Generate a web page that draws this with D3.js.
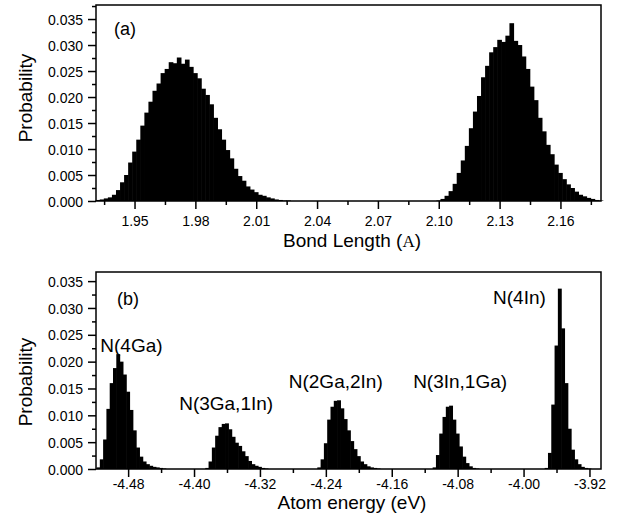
<!DOCTYPE html>
<html>
<head>
<meta charset="utf-8">
<script src="https://cdn.jsdelivr.net/npm/d3@7"></script>
<style>
  body { margin: 0; background: #fff; }
  svg text { font-family: "Liberation Sans", Arial, Helvetica, sans-serif; fill: #000; }
</style>
</head>
<body>
<div id="chart"></div>
<script>
// ---- data ----
// (a) bond length histograms, bin centres start + i*step
const bondStep   = 0.002;
const gaNStart   = 1.932;
const gaNProb    = [0.0002, 0.0003, 0.0005, 0.0007, 0.0012, 0.0021, 0.0036, 0.0050, 0.0074, 0.0095,
                    0.0118, 0.0145, 0.0170, 0.0191, 0.0212, 0.0226, 0.0246, 0.0254, 0.0267, 0.0265,
                    0.0276, 0.0264, 0.0272, 0.0258, 0.0246, 0.0236, 0.0216, 0.0204, 0.0186, 0.0160,
                    0.0138, 0.0118, 0.0098, 0.0082, 0.0062, 0.0048, 0.0039, 0.0028, 0.0022, 0.0017,
                    0.0012, 0.0010, 0.0007, 0.0005, 0.0003, 0.0002, 0.0001, 0.0001];
const inNStart   = 2.100;
const inNProb    = [0.0001, 0.0004, 0.0010, 0.0019, 0.0033, 0.0054, 0.0078, 0.0106, 0.0140, 0.0172,
                    0.0202, 0.0238, 0.0260, 0.0286, 0.0296, 0.0310, 0.0306, 0.0318, 0.0342, 0.0308,
                    0.0300, 0.0278, 0.0254, 0.0220, 0.0194, 0.0160, 0.0134, 0.0108, 0.0090, 0.0070,
                    0.0054, 0.0042, 0.0032, 0.0025, 0.0018, 0.0012, 0.0009, 0.0006, 0.0004, 0.0002,
                    0.0001];

// (b) atom energy histograms by N environment
const energyStep = 0.004;
const envLabels  = ["N(4Ga)", "N(3Ga,1In)", "N(2Ga,2In)", "N(3In,1Ga)", "N(4In)"];
const envStarts  = [-4.516, -4.384, -4.248, -4.108, -3.972];
const n4Ga       = [0.0003, 0.0018, 0.0055, 0.0112, 0.0160, 0.0188, 0.0214, 0.0200, 0.0176, 0.0144,
                    0.0110, 0.0072, 0.0040, 0.0023, 0.0014, 0.0009, 0.0006, 0.0004, 0.0003, 0.0002, 0.0001];
const n3Ga1In    = [0.0002, 0.0014, 0.0040, 0.0062, 0.0078, 0.0084, 0.0085, 0.0074, 0.0060, 0.0049,
                    0.0043, 0.0033, 0.0024, 0.0015, 0.0009, 0.0006, 0.0004, 0.0002, 0.0001];
const n2Ga2In    = [0.0003, 0.0018, 0.0048, 0.0092, 0.0116, 0.0127, 0.0128, 0.0113, 0.0093, 0.0072,
                    0.0052, 0.0037, 0.0024, 0.0014, 0.0009, 0.0005, 0.0003, 0.0002, 0.0001];
const n3In1Ga    = [0.0003, 0.0026, 0.0066, 0.0097, 0.0116, 0.0118, 0.0092, 0.0066, 0.0042, 0.0023,
                    0.0011, 0.0005, 0.0002, 0.0001];
const n4In       = [0.0002, 0.0030, 0.0120, 0.0230, 0.0336, 0.0262, 0.0160, 0.0075, 0.0036, 0.0018,
                    0.0009, 0.0004, 0.0002, 0.0001];
const envProbs   = [n4Ga, n3Ga1In, n2Ga2In, n3In1Ga, n4In];
// where each peak name sits (energy, probability of its baseline)
const envLabelAt = [[-4.476, 0.0218], [-4.361, 0.0110], [-4.228, 0.0151], [-4.077, 0.0151], [-4.005, 0.0307]];

// ticks
const probTicks   = [0, 0.005, 0.010, 0.015, 0.020, 0.025, 0.030, 0.035];
const bondTicks   = [1.95, 1.98, 2.01, 2.04, 2.07, 2.10, 2.13, 2.16];
const energyTicks = [-4.48, -4.40, -4.32, -4.24, -4.16, -4.08, -4.00, -3.92];

// ---- layout ----
const WIDTH  = 619;
const HEIGHT = 525;
const LEFT   = 96;
const RIGHT  = 601;

const svg = d3.select("#chart").append("svg")
    .attr("width", WIDTH)
    .attr("height", HEIGHT);

// start + values -> bins with left/right edges
function toBins(start, step, values) {
    return values.map((v, i) => ({ x0: start + (i - 0.5) * step, x1: start + (i + 0.5) * step, p: v }));
}

function minorsOf(major, step, domain) {
    const out = [];
    const lo = Math.min(...domain), hi = Math.max(...domain);
    major.forEach(t => {
        [t - step / 2, t + step / 2].forEach(m => {
            if (m > lo && m < hi && !out.some(o => Math.abs(o - m) < 1e-9)) out.push(m);
        });
    });
    return out;
}

function panel(cfg) {
    const x = d3.scaleLinear().domain(cfg.xDomain).range([LEFT, RIGHT]);
    const y = d3.scaleLinear().domain(cfg.yDomain).range([cfg.bottom, cfg.top]);
    const g = svg.append("g");

    // histogram bars, slightly widened so neighbours overlap without seams
    g.selectAll("rect.bin")
        .data(cfg.bins)
        .join("rect")
        .attr("class", "bin")
        .attr("x", d => x(d.x0) - 0.3)
        .attr("width", d => x(d.x1) - x(d.x0) + 0.6)
        .attr("y", d => y(d.p))
        .attr("height", d => y(0) - y(d.p))
        .attr("fill", "#000");

    // frame
    g.append("rect")
        .attr("x", LEFT).attr("y", cfg.top)
        .attr("width", RIGHT - LEFT).attr("height", cfg.bottom - cfg.top)
        .attr("fill", "none").attr("stroke", "#000").attr("stroke-width", 1.5);

    // major + minor ticks
    const xAxis = g.append("g").attr("transform", `translate(0,${cfg.bottom})`)
        .call(d3.axisBottom(x).tickValues(cfg.xTicks).tickSize(8).tickSizeOuter(0)
            .tickFormat(d => d.toFixed(2)));
    g.append("g").attr("transform", `translate(0,${cfg.bottom})`)
        .call(d3.axisBottom(x).tickValues(minorsOf(cfg.xTicks, cfg.xTicks[1] - cfg.xTicks[0], cfg.xDomain))
            .tickSize(4).tickSizeOuter(0).tickFormat(""));
    const yAxis = g.append("g").attr("transform", `translate(${LEFT},0)`)
        .call(d3.axisLeft(y).tickValues(probTicks).tickSize(8).tickSizeOuter(0)
            .tickFormat(d => d.toFixed(3)));
    g.append("g").attr("transform", `translate(${LEFT},0)`)
        .call(d3.axisLeft(y).tickValues(minorsOf(probTicks, 0.005, cfg.yDomain))
            .tickSize(4).tickSizeOuter(0).tickFormat(""));

    g.selectAll(".domain").remove();
    g.selectAll(".tick line").attr("stroke", "#000").attr("stroke-width", 1.5);
    xAxis.selectAll("text").attr("font-size", 14).attr("dy", null).attr("y", cfg.tickDy);
    yAxis.selectAll("text").attr("font-size", 14).attr("x", -13).attr("dy", "0.36em");

    // axis titles
    g.append("text")
        .attr("transform", `translate(32,${cfg.yTitleY}) rotate(-90)`)
        .attr("text-anchor", "middle")
        .attr("font-size", 19)
        .text("Probability");

    const t = g.append("text")
        .attr("x", 352).attr("y", cfg.bottom + cfg.titleDy)
        .attr("text-anchor", "middle")
        .attr("font-size", 19)
        .text(cfg.xTitle);
    if (cfg.xTitleUnit) {
        t.append("tspan").text(" (");
        t.append("tspan").style("font-family", "'Liberation Serif', 'Times New Roman', serif")
            .attr("font-size", 17).text(cfg.xTitleUnit);
        t.append("tspan").text(")");
    }

    g.append("text")
        .attr("x", cfg.tagX).attr("y", cfg.tagY)
        .attr("font-size", 18)
        .text(cfg.tag);

    return { x, y, g };
}

// (a) bond lengths
panel({
    top: 5, bottom: 201,
    xDomain: [1.931, 2.18], yDomain: [0, 0.0377],
    xTicks: bondTicks, tickDy: 25,
    bins: toBins(gaNStart, bondStep, gaNProb).concat(toBins(inNStart, bondStep, inNProb)),
    xTitle: "Bond Length", xTitleUnit: "A", titleDy: 46,
    yTitleY: 98,
    tag: "(a)", tagX: 114, tagY: 35
});

// (b) atom energies
const pb = panel({
    top: 272, bottom: 469,
    xDomain: [-4.519, -3.906], yDomain: [0, 0.0367],
    xTicks: energyTicks, tickDy: 20,
    bins: envProbs.flatMap((p, i) => toBins(envStarts[i], energyStep, p)),
    xTitle: "Atom energy (eV)", titleDy: 40,
    yTitleY: 382,
    tag: "(b)", tagX: 117, tagY: 305
});

pb.g.selectAll("text.env")
    .data(envLabels)
    .join("text")
    .attr("class", "env")
    .attr("x", (d, i) => pb.x(envLabelAt[i][0]))
    .attr("y", (d, i) => pb.y(envLabelAt[i][1]))
    .attr("text-anchor", "middle")
    .attr("font-size", 19)
    .text(d => d);
</script>
</body>
</html>
